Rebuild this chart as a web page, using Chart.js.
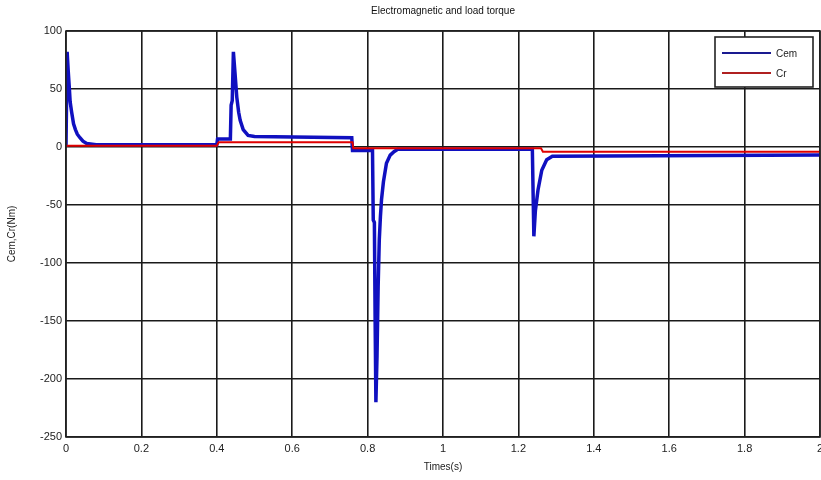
<!DOCTYPE html>
<html>
<head>
<meta charset="utf-8">
<script src="https://cdn.jsdelivr.net/npm/chart.js@4.4.0/dist/chart.umd.min.js"></script>
<style>
  html, body { margin: 0; padding: 0; background: #fff; }
  #wrap { width: 821px; height: 480px; position: relative; }
</style>
</head>
<body>
<div id="wrap"><canvas id="c" width="821" height="480"></canvas></div>
<script>
// ---- data ----
const chartTitle = "Electromagnetic and load torque";
const xAxisTitle = "Times(s)";
const yAxisTitle = "Cem,Cr(Nm)";
const seriesLabels = ["Cem", "Cr"];

const cemTime = [0, 0.003, 0.006, 0.009, 0.011, 0.015, 0.02, 0.025, 0.03, 0.037, 0.045, 0.055, 0.08, 0.4,
  0.402, 0.436, 0.438, 0.441, 0.444, 0.448, 0.453, 0.458, 0.462, 0.47, 0.483, 0.5, 0.758,
  0.76, 0.813, 0.815, 0.818, 0.82, 0.822, 0.825, 0.828, 0.831, 0.834, 0.837, 0.842, 0.85, 0.86, 0.87, 0.88,
  1.237, 1.241, 1.245, 1.252, 1.262, 1.275, 1.29, 2];
const cemValues = [0, 82, 65, 50, 39, 30, 20, 15, 11, 8, 5, 3, 2, 2,
  7, 7, 36, 40, 82, 65, 43, 30, 23, 15, 10, 9, 8,
  -3, -3, -63, -65, -150, -220, -180, -120, -80, -60, -45, -30, -14, -7, -4, -2,
  -2, -77, -55, -37, -20, -11, -8, -7];

const crTime = [0, 0.4, 0.405, 0.76, 0.762, 1.26, 1.265, 2];
const crValues = [1, 1, 4, 4, -1, -1, -4, -4];

const xTicks = [0, 0.2, 0.4, 0.6, 0.8, 1, 1.2, 1.4, 1.6, 1.8, 2];
const yTicks = [100, 50, 0, -50, -100, -150, -200, -250];

// ---- build ----
const toPoints = (xs, ys) => xs.map((x, i) => ({ x: x, y: ys[i] }));
const FONT = "'Liberation Sans', Arial, sans-serif";

const framePlugin = {
  id: 'frame',
  afterDraw(chart) {
    const ctx = chart.ctx, a = chart.chartArea;
    ctx.save();
    ctx.strokeStyle = '#222';
    ctx.lineWidth = 1.6;
    ctx.strokeRect(a.left, a.top, a.right - a.left, a.bottom - a.top);
    ctx.fillStyle = '#111';
    ctx.font = "10px " + FONT;
    ctx.textAlign = 'center';
    ctx.textBaseline = 'middle';
    ctx.fillText(chartTitle, (a.left + a.right) / 2, 11);
    const bx = a.right - 105, by = a.top + 6, bw = 98, bh = 50;
    ctx.fillStyle = '#fff';
    ctx.fillRect(bx, by, bw, bh);
    ctx.strokeStyle = '#222';
    ctx.lineWidth = 1.6;
    ctx.strokeRect(bx, by, bw, bh);
    ctx.font = "10px " + FONT;
    ctx.textAlign = 'left';
    chart.data.datasets.forEach((ds, i) => {
      const yy = by + 16 + i * 20;
      ctx.strokeStyle = ds.legendColor;
      ctx.lineWidth = 2;
      ctx.beginPath();
      ctx.moveTo(bx + 7, yy);
      ctx.lineTo(bx + 56, yy);
      ctx.stroke();
      ctx.fillStyle = '#222';
      ctx.fillText(ds.label, bx + 61, yy + 1);
    });
    ctx.restore();
  }
};

new Chart(document.getElementById('c'), {
  type: 'line',
  data: {
    datasets: [
      {
        label: seriesLabels[0],
        data: toPoints(cemTime, cemValues),
        borderColor: '#1010c0',
        legendColor: '#1a1a90',
        borderWidth: 3.5,
        pointRadius: 0,
        tension: 0,
        order: 2
      },
      {
        label: seriesLabels[1],
        data: toPoints(crTime, crValues),
        borderColor: '#e00000',
        legendColor: '#b02020',
        borderWidth: 2,
        pointRadius: 0,
        tension: 0,
        order: 1
      }
    ]
  },
  options: {
    responsive: false,
    animation: false,
    layout: { padding: { top: 31, right: 1, bottom: 0, left: 0 } },
    plugins: {
      legend: { display: false },
      title: { display: false },
      tooltip: { enabled: false }
    },
    scales: {
      x: {
        type: 'linear',
        min: 0, max: 2,
        afterBuildTicks(scale) { scale.ticks = xTicks.map(v => ({ value: v })); },
        afterFit(scale) { scale.height = 43; scale.paddingRight = 0; scale.paddingLeft = 0; },
        grid: { color: '#1a1a1a', lineWidth: 1.6, drawTicks: false },
        border: { display: false },
        ticks: {
          color: '#222',
          font: { family: FONT, size: 11 },
          padding: 5,
          maxRotation: 0,
          autoSkip: false,
          callback: v => String(v)
        },
        title: {
          display: true,
          text: xAxisTitle,
          color: '#222',
          font: { family: FONT, size: 10 },
          padding: { top: 3, bottom: 7 }
        }
      },
      y: {
        type: 'linear',
        min: -250, max: 100,
        afterBuildTicks(scale) { scale.ticks = yTicks.map(v => ({ value: v })); },
        afterFit(scale) { scale.width = 66; },
        grid: { color: '#1a1a1a', lineWidth: 1.6, drawTicks: false },
        border: { display: false },
        ticks: {
          color: '#222',
          font: { family: FONT, size: 11 },
          padding: 4,
          autoSkip: false,
          callback: v => String(v)
        },
        title: {
          display: true,
          text: yAxisTitle,
          color: '#222',
          font: { family: FONT, size: 10 },
          padding: { top: 6, bottom: 4 }
        }
      }
    }
  },
  plugins: [framePlugin]
});
</script>
</body>
</html>
